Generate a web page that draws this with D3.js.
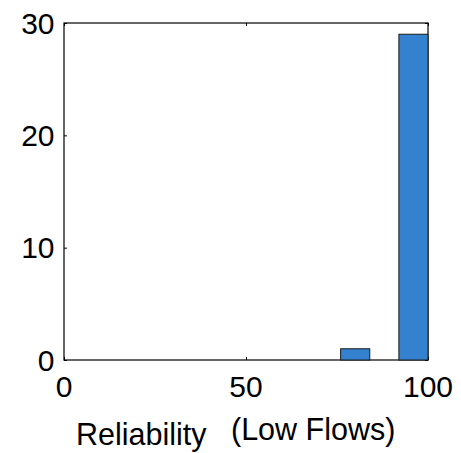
<!DOCTYPE html>
<html>
<head>
<meta charset="utf-8">
<script src="https://cdn.jsdelivr.net/npm/d3@7"></script>
<style>
  body { margin: 0; background: #fff; }
  svg text { font-family: "Liberation Sans", Arial, sans-serif; fill: #000; }
  .tick-label { font-size: 30px; }
  .axis-label { font-size: 30.5px; }
</style>
</head>
<body>
<svg id="hist"></svg>
<script>
const chartSize = {width: 461, height: 453};
const margin = {left: 64, right: 33, top: 23, bottom: 93};
const width = chartSize.width - margin.left - margin.right;
const height = chartSize.height - margin.top - margin.bottom;

// histogram bins (lower edges) and counts
const binEdges = [20, 28, 36, 44, 52, 60, 68, 76, 84, 92, 100];
const counts = [0, 0, 0, 0, 0, 0, 0, 1, 0, 29];
const xTicks = [0, 50, 100];
const yTicks = [0, 10, 20, 30];
const xLabel = "Reliability";
const xLabel2 = "(Low Flows)";

const bins = counts.map((c, i) => ({x0: binEdges[i], x1: binEdges[i + 1], n: c}));

const svg = d3.select("#hist")
  .attr("width", chartSize.width)
  .attr("height", chartSize.height);

const g = svg.append("g")
  .attr("transform", `translate(${margin.left},${margin.top})`);

const x = d3.scaleLinear().domain([0, 100]).range([0, width]);
const y = d3.scaleLinear().domain([0, 30]).range([height, 0]);

// box
g.append("rect")
  .attr("width", width)
  .attr("height", height)
  .attr("fill", "none")
  .attr("stroke", "#000")
  .attr("stroke-width", 1.2);

// inward ticks on all sides
g.append("g").attr("transform", `translate(0,${height})`)
  .call(d3.axisTop(x).tickValues(xTicks).tickSize(3).tickFormat(""))
  .call(a => a.select(".domain").remove());
g.append("g")
  .call(d3.axisBottom(x).tickValues(xTicks).tickSize(3).tickFormat(""))
  .call(a => a.select(".domain").remove());
g.append("g")
  .call(d3.axisRight(y).tickValues(yTicks).tickSize(3).tickFormat(""))
  .call(a => a.select(".domain").remove());
g.append("g").attr("transform", `translate(${width},0)`)
  .call(d3.axisLeft(y).tickValues(yTicks).tickSize(3).tickFormat(""))
  .call(a => a.select(".domain").remove());

// bars
g.selectAll("rect.bar")
  .data(bins)
  .enter()
  .append("rect")
  .attr("class", "bar")
  .attr("x", d => x(d.x0))
  .attr("y", d => y(d.n))
  .attr("width", d => x(d.x1) - x(d.x0))
  .attr("height", d => y(0) - y(d.n))
  .attr("fill", "#3481cf")
  .attr("stroke", "#1a1a1a")
  .attr("stroke-width", 1);

// tick labels
g.selectAll("text.xt")
  .data(xTicks)
  .enter()
  .append("text")
  .attr("class", "tick-label")
  .attr("x", d => x(d))
  .attr("y", height + 36.5)
  .attr("text-anchor", "middle")
  .text(d => d);

g.selectAll("text.yt")
  .data(yTicks)
  .enter()
  .append("text")
  .attr("class", "tick-label")
  .attr("x", -9.5)
  .attr("y", d => y(d) + 10.5)
  .attr("text-anchor", "end")
  .text(d => d);

// axis labels
svg.append("text")
  .attr("class", "axis-label")
  .attr("x", 76)
  .attr("y", 445)
  .text(xLabel);

svg.append("text")
  .attr("class", "axis-label")
  .attr("x", 231)
  .attr("y", 440)
  .text(xLabel2);
</script>
</body>
</html>
